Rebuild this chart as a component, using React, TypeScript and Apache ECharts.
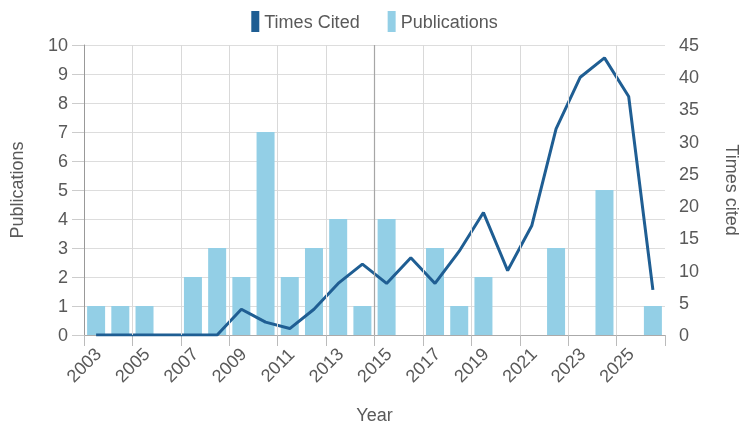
import React, { useEffect, useRef } from "react";
import * as echarts from "echarts";

const years = [2003, 2004, 2005, 2006, 2007, 2008, 2009, 2010, 2011, 2012, 2013, 2014, 2015, 2016, 2017, 2018, 2019, 2020, 2021, 2022, 2023, 2024, 2025, 2026];
const publications = [1, 1, 1, 0, 2, 3, 2, 7, 2, 3, 4, 1, 4, 0, 3, 1, 2, 0, 0, 3, 0, 5, 0, 1];
const timesCited = [0, 0, 0, 0, 0, 0, 4, 2, 1, 4, 8, 11, 8, 12, 8, 13, 19, 10, 17, 32, 40, 43, 37, 7];
const gridYears = [2005, 2007, 2009, 2011, 2013, 2017, 2019, 2021, 2023, 2025];
const markedYear = 2015;

const TEXT = "#595959";
const FONT = "Liberation Sans, Arial, sans-serif";

export default function App() {
  const ref = useRef<HTMLDivElement>(null);
  useEffect(() => {
    if (!ref.current) return;
    const chart = echarts.init(ref.current, null, { renderer: "svg" });
    const barData = years.map((y, i) => [y + 0.5, publications[i]]);
    const lineData = years.map((y, i) => [y + 0.5, timesCited[i]]);
    chart.setOption({
      animation: false,
      textStyle: { fontFamily: FONT, color: TEXT },
      legend: {
        top: 6,
        left: "center",
        itemGap: 28,
        itemWidth: 8,
        itemHeight: 21,
        icon: "rect",
        textStyle: { fontSize: 18, color: TEXT, fontFamily: FONT },
        data: ["Times Cited", "Publications"],
      },
      grid: { left: 82, right: 71, top: 45, bottom: 84, containLabel: false },
      xAxis: {
        type: "value",
        min: 2003,
        max: 2027,
        interval: 2,
        name: "Year",
        nameLocation: "middle",
        nameGap: 71,
        nameTextStyle: { fontSize: 18, color: TEXT },
        axisLine: { show: true, lineStyle: { color: "#aaaaaa" } },
        axisTick: { show: true, length: 11, lineStyle: { color: "#bbbbbb" } },
        axisLabel: {
          rotate: 45,
          fontSize: 18,
          color: TEXT,
          margin: 30,
          align: "center",
          verticalAlign: "middle",
          formatter: (v: number) => (v === 2027 ? "" : String(v)),
        },
        splitLine: { show: false },
      },
      yAxis: [
        {
          type: "value",
          min: 0,
          max: 10,
          interval: 1,
          name: "Publications",
          nameLocation: "middle",
          nameGap: 58,
          nameTextStyle: { fontSize: 18, color: TEXT },
          axisLine: { show: true, lineStyle: { color: "#999999" } },
          axisTick: { show: true, length: 12, lineStyle: { color: "#cccccc" } },
          axisLabel: { fontSize: 18, color: TEXT, margin: 16 },
          splitLine: { show: true, lineStyle: { color: "#dddddd" } },
        },
        {
          type: "value",
          min: 0,
          max: 45,
          interval: 5,
          name: "Times cited",
          nameLocation: "middle",
          nameRotate: -90,
          nameGap: 58,
          nameTextStyle: { fontSize: 18, color: TEXT },
          axisLine: { show: false },
          axisTick: { show: false },
          axisLabel: { fontSize: 18, color: TEXT, margin: 14 },
          splitLine: { show: false },
        },
      ],
      series: [
        {
          name: "Publications",
          type: "bar",
          yAxisIndex: 0,
          barWidth: 18,
          itemStyle: { color: "#93cfe6" },
          data: barData,
          markLine: {
            silent: true,
            symbol: ["none", "none"],
            label: { show: false },
            lineStyle: { color: "#d9d9d9", type: "solid", width: 1 },
            data: [
              ...gridYears.map((y) => ({ xAxis: y })),
              { xAxis: markedYear, lineStyle: { color: "#a6a6a6", type: "solid", width: 1.2 } },
            ],
          },
        },
        {
          name: "Times Cited",
          type: "line",
          yAxisIndex: 1,
          showSymbol: false,
          symbol: "none",
          lineStyle: { color: "#1f5e93", width: 3 },
          itemStyle: { color: "#1f5e93" },
          data: lineData,
        },
      ],
    });
    return () => chart.dispose();
  }, []);
  return (
    <div
      ref={ref}
      style={{ position: "fixed", left: 0, top: 0, width: 749, height: 429 }}
    />
  );
}
